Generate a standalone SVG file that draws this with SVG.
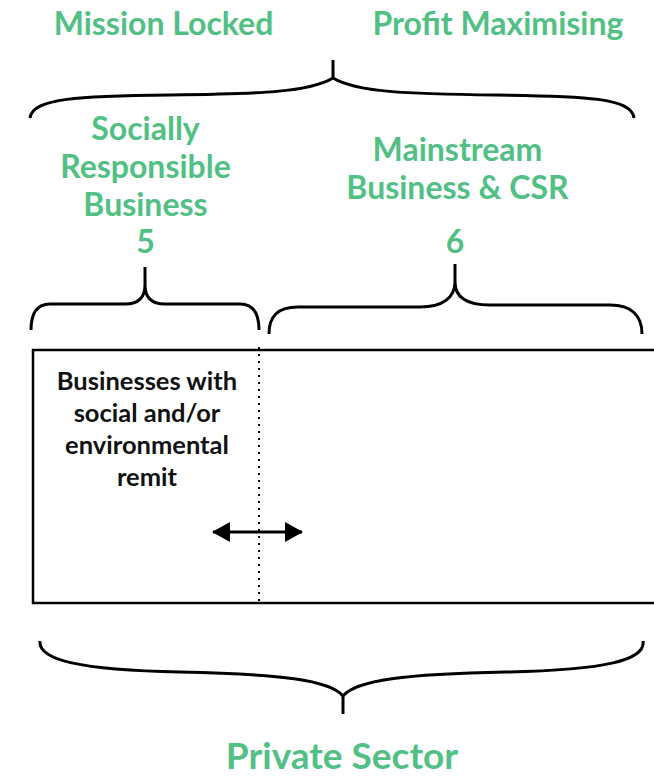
<svg xmlns="http://www.w3.org/2000/svg" width="654" height="776" viewBox="0 0 654 776">
<style>
.g{fill:#52bf85;font-family:Lato,"Open Sans",sans-serif;font-weight:bold;text-anchor:middle}
.b{fill:#111;font-family:Lato,"Open Sans",sans-serif;font-weight:bold;text-anchor:middle;font-size:25.5px}
.br{fill:none;stroke:#000;stroke-width:3}
</style>
<defs>
<marker id="ah" viewBox="0 0 18 20" refX="17" refY="10" markerWidth="18" markerHeight="20" markerUnits="userSpaceOnUse" orient="auto-start-reverse"><path d="M0,0 L18,10 L0,20 z" fill="#000"/></marker>
</defs>
<rect width="654" height="776" fill="#fff"/>
<g id="top-labels">
<text class="g" x="163.5" y="35" font-size="32">Mission Locked</text>
<text class="g" x="498" y="35" font-size="32">Profit Maximising</text>
</g>
<g id="top-brace"><path class="br" d="M30,118 C32,98 80,96 170,95 C260,94 310,92 333,78 L333,60 M333,78 C356,92 406,94 496,95 C586,96 632,98 634,118"/></g>
<g id="srb">
<text class="g" x="145.5" y="139.5" font-size="32">Socially</text>
<text class="g" x="145.5" y="178" font-size="32">Responsible</text>
<text class="g" x="145.5" y="216" font-size="32">Business</text>
<text class="g" x="145.5" y="252.5" font-size="32">5</text>
</g>
<g id="mbc">
<text class="g" x="457.5" y="161" font-size="32">Mainstream</text>
<text class="g" x="457.5" y="199" font-size="32">Business &amp; CSR</text>
<text class="g" x="455" y="252.5" font-size="32">6</text>
</g>
<g id="brace5"><path class="br" d="M31,330 C31,312 38,304 50,304 L125,304 C138,304 145,298 145,285 L145,267 M145,285 C145,298 152,304 165,304 L240,304 C252,304 259,312 259,330"/></g>
<g id="brace6"><path class="br" d="M269,334 C269,316 278,307 298,307 L420,307 C442,307 455,298 455,282 L455,264 M455,282 C455,298 468,305 490,305 L610,305 C632,305 642,316 642,334"/></g>
<g id="box">
<path d="M654,350 L33,350 L33,603 L654,603" fill="none" stroke="#000" stroke-width="2.5"/>
<text class="b" x="147" y="390">Businesses with</text>
<text class="b" x="147" y="422">social and/or</text>
<text class="b" x="147" y="454">environmental</text>
<text class="b" x="147" y="486">remit</text>
</g>
<g id="connectors">
<line x1="259" y1="347" x2="259" y2="606" stroke="#000" stroke-width="2" stroke-dasharray="2,5"/>
<line x1="213" y1="532" x2="302" y2="532" stroke="#000" stroke-width="3" marker-start="url(#ah)" marker-end="url(#ah)"/>
</g>
<g id="bottom-brace"><path class="br" d="M40,641 C38,660 80,670 180,672 C280,674 330,680 343,696 L343,714 M343,696 C356,680 406,674 506,672 C606,670 646,660 643,641"/></g>
<g id="private"><text class="g" x="342" y="769" font-size="37">Private Sector</text></g>
</svg>
